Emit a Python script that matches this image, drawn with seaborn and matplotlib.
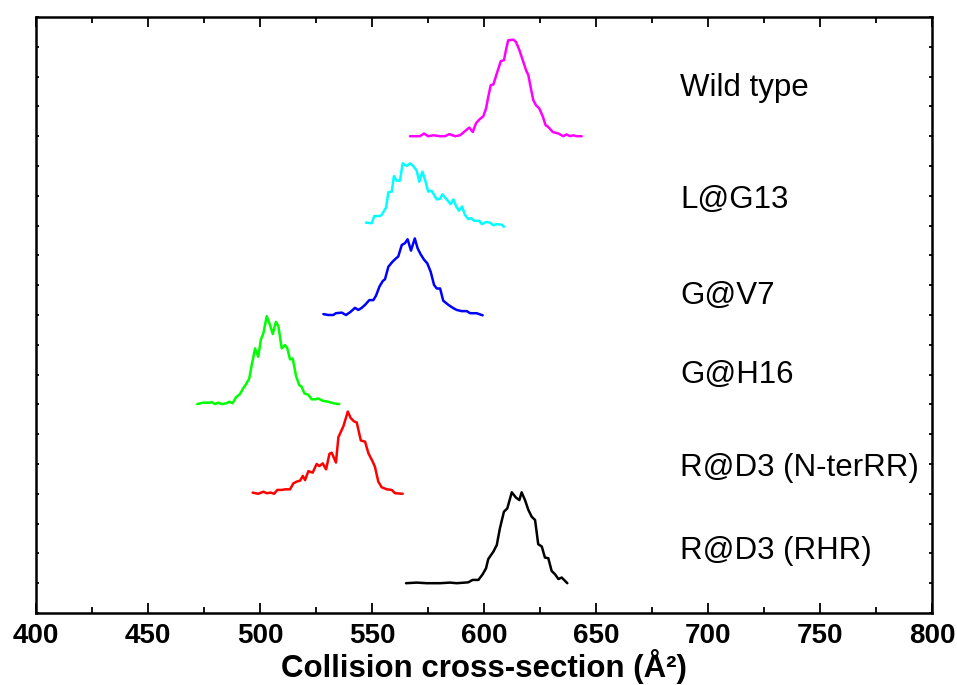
import numpy as np
import pandas as pd
import matplotlib
matplotlib.use("Agg")
import matplotlib.pyplot as plt
from matplotlib.ticker import MultipleLocator
import seaborn as sns

# ---------------- data ----------------
labels = ["Wild type", "L@G13", "G@V7", "G@H16", "R@D3 (N-terRR)", "R@D3 (RHR)"]

wt_ccs = [567.0, 571.4, 573.2, 575.1, 577.4, 580.4, 582.6, 584.5, 587.1, 589.3, 591.5, 593.4,
          595.0, 596.4, 597.9, 599.7, 600.9, 601.9, 603.0, 604.2, 605.7, 607.5, 608.9, 609.8,
          610.8, 613.1, 614.3, 615.8, 617.3, 618.8, 619.8, 620.8, 622.0, 623.2, 624.7, 626.2,
          627.5, 628.7, 630.7, 633.2, 635.4, 636.9, 638.4, 639.9, 641.4, 643.6]
wt_int = [0.00, 0.00, 0.09, 0.00, 0.03, 0.00, 0.00, 0.07, 0.00, 0.03, 0.17, 0.29,
          0.14, 0.43, 0.56, 0.67, 0.93, 1.32, 1.71, 1.74, 2.10, 2.52, 2.55, 2.89,
          3.22, 3.24, 3.16, 2.89, 2.55, 2.21, 2.05, 1.65, 1.21, 1.04, 0.93, 0.67,
          0.37, 0.31, 0.14, 0.09, 0.00, 0.06, 0.00, 0.03, 0.00, 0.00]

lg13_ccs = [547.3, 549.9, 551.0, 553.6, 554.3, 556.3, 557.3, 558.8, 559.8, 561.0, 562.5, 563.7,
            565.5, 567.0, 568.4, 570.0, 571.1, 572.5, 573.7, 575.1, 576.6, 578.9, 580.4, 581.4,
            583.0, 585.1, 586.3, 587.5, 588.8, 590.2, 591.5, 593.0, 594.2, 595.7, 597.9, 599.0,
            600.9, 602.7, 604.2, 605.7, 607.9, 608.9]
lg13_int = [0.10, 0.08, 0.32, 0.32, 0.36, 0.61, 1.12, 1.14, 1.66, 1.51, 1.51, 2.09,
            2.00, 2.09, 2.00, 1.84, 1.47, 1.81, 1.53, 1.14, 1.17, 0.88, 0.90, 1.05,
            0.91, 0.72, 0.88, 0.66, 0.50, 0.64, 0.36, 0.22, 0.25, 0.16, 0.16, 0.05,
            0.12, 0.10, 0.01, 0.05, 0.03, -0.04]

gv7_ccs = [528.3, 530.5, 532.7, 533.9, 536.5, 538.4, 540.5, 542.4, 543.9, 545.4, 546.9, 548.8,
           550.6, 551.8, 553.3, 554.8, 555.8, 557.3, 559.2, 560.7, 561.7, 563.3, 564.7, 565.9,
           567.4, 569.1, 570.4, 571.7, 573.2, 574.7, 576.2, 577.7, 578.9, 580.4, 581.8, 584.1,
           586.3, 587.8, 590.0, 592.3, 593.8, 596.7, 599.4]
gv7_int = [0.03, 0.00, 0.00, 0.06, 0.08, 0.00, 0.11, 0.24, 0.17, 0.24, 0.34, 0.50,
           0.50, 0.65, 0.95, 1.14, 1.20, 1.62, 1.79, 1.90, 1.96, 2.35, 2.41, 2.54,
           2.16, 2.57, 2.23, 2.04, 1.86, 1.73, 1.45, 1.01, 0.89, 0.89, 0.48, 0.34,
           0.23, 0.17, 0.13, 0.13, 0.06, 0.06, -0.01]

gh16_ccs = [472.0, 474.7, 477.7, 478.4, 479.9, 481.4, 482.9, 485.1, 486.3, 487.8, 489.3, 491.1,
            492.5, 493.8, 495.2, 496.3, 497.8, 499.2, 500.4, 501.5, 503.0, 504.5, 505.7, 507.1,
            508.2, 509.7, 511.2, 512.2, 513.4, 514.6, 516.1, 517.5, 518.6, 519.8, 521.6, 523.1,
            524.6, 526.0, 528.0, 530.5, 532.7, 535.4]
gh16_int = [0.01, 0.06, 0.06, 0.08, 0.01, 0.06, 0.01, 0.04, 0.09, 0.04, 0.24, 0.35,
            0.54, 0.68, 0.87, 1.32, 1.88, 1.60, 2.18, 2.38, 2.96, 2.66, 2.36, 2.77,
            2.63, 1.88, 1.99, 1.88, 1.51, 1.54, 0.95, 0.65, 0.59, 0.37, 0.32, 0.17,
            0.17, 0.20, 0.12, 0.09, 0.04, 0.01]

nter_ccs = [496.7, 499.2, 501.5, 503.0, 504.8, 506.3, 507.7, 509.7, 511.2, 513.4, 514.9, 516.4,
            517.9, 519.1, 520.1, 521.6, 523.5, 525.3, 526.5, 528.0, 529.5, 531.0, 532.0, 533.9,
            535.0, 537.2, 539.2, 540.5, 542.0, 543.2, 545.0, 546.9, 548.4, 550.3, 551.3, 552.8,
            554.3, 556.6, 558.8, 560.3, 563.7]
nter_int = [0.04, 0.00, 0.07, 0.02, 0.04, 0.00, 0.13, 0.13, 0.15, 0.15, 0.35, 0.41,
            0.44, 0.60, 0.46, 0.76, 0.71, 1.00, 0.93, 1.02, 0.82, 1.34, 1.38, 1.05,
            1.90, 2.26, 2.76, 2.54, 2.43, 2.39, 1.79, 1.75, 1.36, 1.08, 0.91, 0.41,
            0.22, 0.15, 0.13, 0.02, 0.00]

rhr_ccs = [565.2, 570.0, 574.4, 580.4, 584.8, 587.8, 591.5, 593.0, 594.9, 597.5, 599.4, 600.9,
           601.9, 604.2, 605.7, 607.1, 608.9, 610.4, 612.4, 614.3, 615.8, 616.8, 618.3, 619.8,
           621.3, 622.8, 624.2, 625.8, 627.2, 628.7, 630.2, 631.7, 633.2, 634.7, 637.2]
rhr_int = [0.00, 0.02, 0.00, 0.00, 0.02, 0.00, 0.02, 0.03, 0.11, 0.11, 0.30, 0.50,
           0.81, 1.06, 1.28, 1.84, 2.40, 2.51, 3.05, 2.87, 2.79, 3.05, 2.79, 2.46,
           2.23, 2.12, 1.31, 1.23, 0.86, 0.84, 0.41, 0.30, 0.14, 0.19, 0.00]

x_ticks = [400, 450, 500, 550, 600, 650, 700, 750, 800]
x_label = "Collision cross-section (Å²)"

# ---------------- layout / style ----------------
series_ccs = [wt_ccs, lg13_ccs, gv7_ccs, gh16_ccs, nter_ccs, rhr_ccs]
series_int = [wt_int, lg13_int, gv7_int, gh16_int, nter_int, rhr_int]
baselines = [16, 13, 10, 7, 4, 1]
label_y = [17.35, 13.59, 10.37, 7.72, 4.60, 1.81]
colors = ["#FF00FF", "#00FFFF", "#0000FF", "#00FF00", "#FF0000", "#000000"]

frames = []
for name, xs, ys, base in zip(labels, series_ccs, series_int, baselines):
    frames.append(pd.DataFrame({"ccs": xs, "y": np.asarray(ys) + base, "trace": name}))
df = pd.concat(frames, ignore_index=True)

sns.set_theme(style="white")
plt.rcParams["font.family"] = ["Liberation Sans", "DejaVu Sans"]
plt.rcParams["text.color"] = "black"
plt.rcParams["xtick.color"] = "black"
plt.rcParams["axes.labelcolor"] = "black"

fig = plt.figure(figsize=(9.57, 6.85), dpi=100)
ax = fig.add_axes([36 / 957, 72 / 685, 896 / 957, 596 / 685])

sns.lineplot(data=df, x="ccs", y="y", hue="trace", hue_order=labels,
             palette=dict(zip(labels, colors)), sort=False, estimator=None,
             linewidth=1.8, legend=False, ax=ax)

for name, ly in zip(labels, label_y):
    ax.text(687.5, ly, name, fontsize=22.5, color="black", va="baseline", ha="left")

ax.set_xlim(400, 800)
ax.set_ylim(0, 20)
ax.set_xticks(x_ticks)
ax.xaxis.set_minor_locator(MultipleLocator(25))
ax.set_yticks([])
ax.yaxis.set_minor_locator(MultipleLocator(1))
ax.tick_params(axis="x", which="major", direction="in", length=7.5, width=1.3,
               top=True, bottom=True, labelsize=20, pad=7, labelcolor="black")
ax.tick_params(axis="x", which="minor", direction="in", length=4, width=1.3,
               top=True, bottom=True)
ax.tick_params(axis="y", which="minor", direction="in", length=2.2, width=1.3,
               left=True, right=True, color="black")
for lab in ax.get_xticklabels():
    lab.set_fontweight("bold")
ax.set_ylabel("")
ax.set_xlabel(x_label, fontsize=22.5, fontweight="bold", labelpad=0, color="black")
for sp in ax.spines.values():
    sp.set_linewidth(1.8)
    sp.set_color("black")

fig.savefig("out.png", dpi=100)
